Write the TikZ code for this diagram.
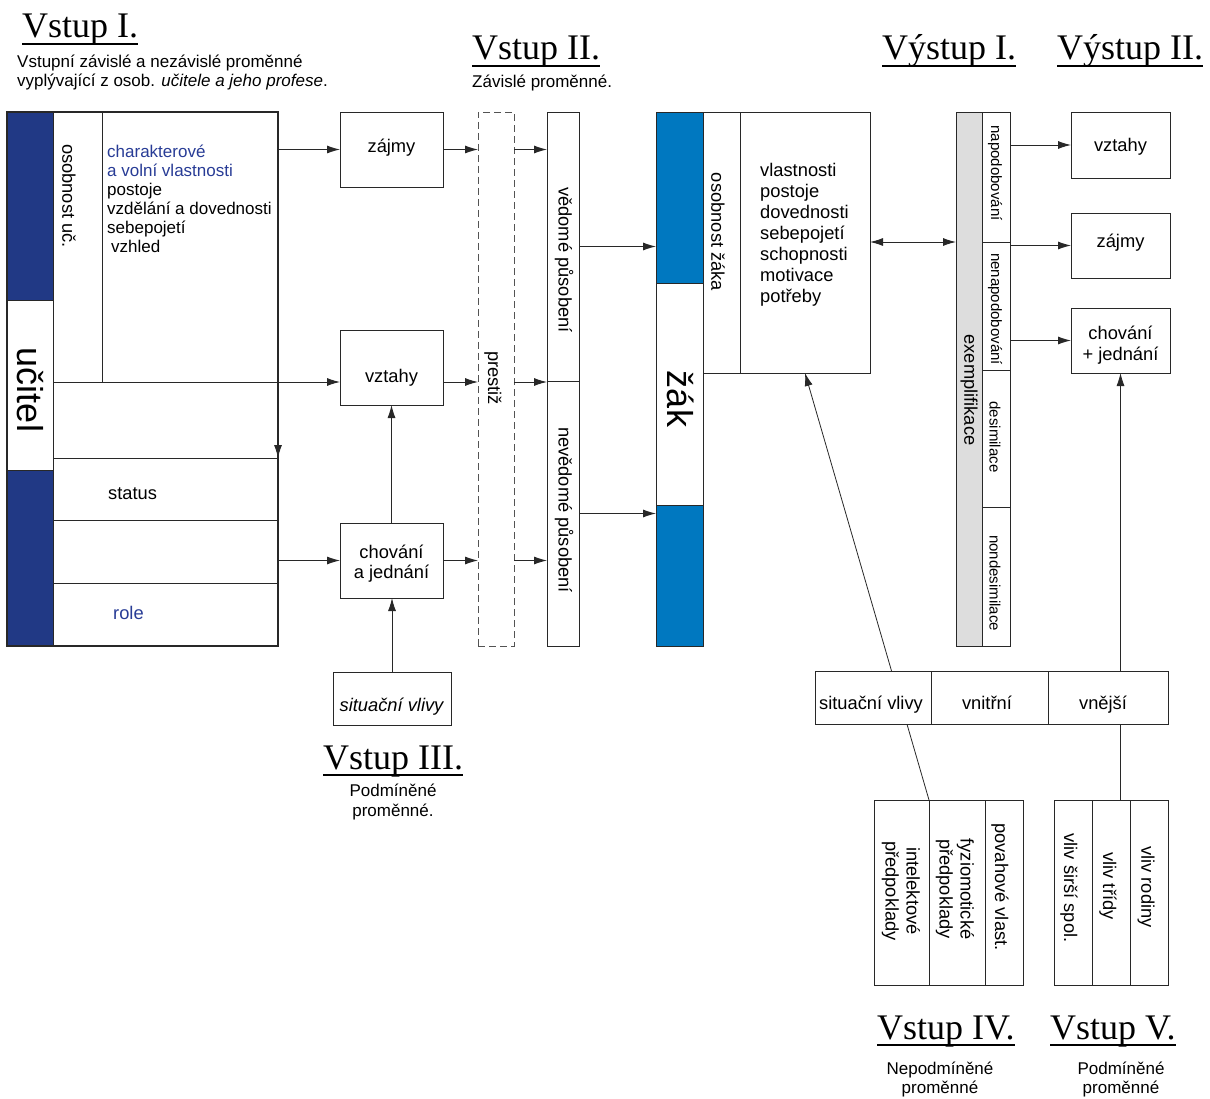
\documentclass[tikz,border=0pt]{standalone}
\usepackage{fontspec}
\setmainfont{Liberation Sans}
\newfontfamily\headfont{Liberation Serif}
\usetikzlibrary{arrows.meta,backgrounds}
\definecolor{navy}{RGB}{33,57,133}
\definecolor{zblue}{RGB}{0,120,192}
\definecolor{tblue}{RGB}{40,60,150}
\definecolor{exgray}{RGB}{221,221,221}
\definecolor{ln}{RGB}{40,40,40}
\newcommand\fsA{\fontsize{18.3}{21}\selectfont}
\newcommand\fsB{\fontsize{17}{19}\selectfont}
\newcommand\fsC{\fontsize{15}{17}\selectfont}
\newcommand\fsBig{\fontsize{36}{40}\selectfont}
\tikzset{
  bx/.style={draw=ln, line width=0.9pt, inner sep=0pt, outer sep=0pt, anchor=north west, align=center, font=\fsA},
  arr/.style={-{Latex[length=13pt,width=8pt]}, line width=0.9pt, draw=ln},
  darr/.style={{Latex[length=13pt,width=8pt]}-{Latex[length=13pt,width=8pt]}, line width=0.9pt, draw=ln},
  head/.style={font=\headfont\fontsize{36}{40}\selectfont, inner sep=0pt, anchor=base west},
  ul/.style={line width=1.8pt},
  rot/.style={rotate=-90, inner sep=0pt, font=\fsA, align=center},
  txt/.style={inner sep=0pt, font=\fsA},
  ctx/.style={inner sep=0pt, font=\fsA, anchor=base},
  sub/.style={inner sep=0pt, font=\fsB},
}
\newcommand\RB[7][]{\node[bx,minimum width={(#4)-(#2)},minimum height={(#5)-(#3)},#1] (#6) at (#2,#3) {#7};}
\begin{document}
\begin{tikzpicture}[x=1pt,y=-1pt]
\useasboundingbox (0,0) rectangle (1210,1099);

% headings
\node[head] (h1) at (22,38) {Vstup I.};
\node[head] (h2) at (472,60) {Vstup II.};
\node[head] (h3) at (882,60) {Výstup I.};
\node[head] (h4) at (1057,60) {Výstup II.};
\node[head] (h5) at (323,769) {Vstup III.};
\node[head] (h6) at (877,1039) {Vstup IV.};
\node[head] (h7) at (1050,1039) {Vstup V.};
\foreach \h in {h1,h2,h3,h4,h5,h6,h7}
  \draw[ul] ([yshift=-6pt]\h.base west) -- ([yshift=-6pt]\h.base east);

\node[sub,anchor=base west] (s1a) at (17,68) {Vstupní závislé a nezávislé proměnné};
\node[sub,anchor=base west] (s1b) at (17,87) {vyplývající z osob. \textit{učitele a jeho profese}.};
\node[sub,anchor=base west] (s2) at (472,88) {Závislé proměnné.};
\node[sub,anchor=base] (s5a) at (393,796) {Podmíněné};
\node[sub,anchor=base] (s5b) at (393,816) {proměnné.};
\node[sub,anchor=base] (s6a) at (940,1074) {Nepodmíněné};
\node[sub,anchor=base] (s6b) at (940,1093) {proměnné};
\node[sub,anchor=base] (s7a) at (1121,1074) {Podmíněné};
\node[sub,anchor=base] (s7b) at (1121,1093) {proměnné};

% teacher block
\RB[fill=navy]{7}{112}{53}{300}{tnav1}{}
\RB[fill=white]{7}{300}{53}{470}{tuc}{}
\RB[fill=navy]{7}{470}{53}{646}{tnav2}{}
\node[rot,font=\fsBig] (tuctxt) at (30,390) {učitel};
\RB{53}{112}{102}{382}{tosob}{}
\node[rot] (tosobt) at (69,196) {osobnost uč.};
\RB{102}{112}{278}{382}{tprops}{}
\node[sub,anchor=base west,text=tblue] (tp1) at (107,158) {charakterové};
\node[sub,anchor=base west,text=tblue] (tp2) at (107,177) {a volní vlastnosti};
\node[sub,anchor=base west] (tp3) at (107,196) {postoje};
\node[sub,anchor=base west] (tp4) at (107,215) {vzdělání a dovednosti};
\node[sub,anchor=base west] (tp5) at (107,234) {sebepojetí};
\node[sub,anchor=base west] (tp6) at (111,253) {vzhled};
\RB{53}{382}{278}{458}{tmid}{}
\RB{53}{458}{278}{520}{tstat}{}
\node[txt,anchor=base west] (tstatt) at (108,499) {status};
\RB{53}{520}{278}{583}{temp}{}
\RB{53}{583}{278}{646}{trole}{}
\node[txt,anchor=base west,text=tblue] (trolet) at (113,619) {role};
\node[bx,line width=1.4pt,minimum width=271,minimum height=534] (teacher) at (7,112) {};

% middle column
\RB{340}{112}{443}{187}{zajmy}{}
\node[ctx] (zajmyt) at (391.5,153) {zájmy};
\RB{340}{330}{443}{405}{vztahy}{}
\node[ctx] (vztahyt) at (391.5,382) {vztahy};
\RB{340}{523}{443}{598}{chov}{}
\node[ctx] (chovt1) at (391.5,558) {chování};
\node[ctx] (chovt2) at (391.5,578) {a jednání};
\RB{333}{672}{451}{725}{sitv}{}
\node[ctx] (sitvt) at (392,711) {\textit{situační vlivy}};

\RB[dash pattern=on 7pt off 4pt,draw=ln!80]{478}{112}{514}{646}{prest}{}
\node[rot] (prestt) at (493,378) {prestiž};

\RB{547}{112}{579}{381}{ved}{}
\RB{547}{381}{579}{646}{neved}{}
\node[rot] (vedt) at (564,260) {vědomé působení};
\node[rot] (nevedt) at (564,510) {nevědomé působení};

% arrows left part
\draw[arr] (tprops.east |- zajmy.west) -- (zajmy.west);
\draw[arr] (tmid.north west) -- (tmid.north west -| vztahy.west);
\draw[arr] (temp.east |- chov.west) -- (chov.west);
\draw[arr] (tprops.south east) -- (tmid.south east);
\draw[arr] (sitv.north) -- (sitv.north |- chov.south);
\draw[arr] (chov.north) -- (chov.north |- vztahy.south);
\draw[arr] (zajmy.east) -- (zajmy.east -| prest.west);
\draw[arr] (vztahy.east |- tmid.north) -- (prest.west |- tmid.north);
\draw[arr] (chov.east) -- (chov.east -| prest.west);
\draw[arr] (prest.east |- zajmy.east) -- (ved.west |- zajmy.east);
\draw[arr] (prest.east |- tmid.north) -- (ved.west |- tmid.north);
\draw[arr] (prest.east |- chov.east) -- (ved.west |- chov.east);

% zak block
\RB[fill=zblue]{656}{112}{703}{283}{zb1}{}
\RB[fill=white]{656}{283}{703}{505}{zw}{}
\RB[fill=zblue]{656}{505}{703}{646}{zb2}{}
\node[rot,font=\fsBig] (zakt) at (681,399) {žák};
\RB{703}{112}{740}{373}{zos}{}
\node[rot] (zost) at (718,232) {osobnost žáka};
\RB{740}{112}{870}{373}{zprops}{}
\node[txt,anchor=base west] (zp1) at (760,177) {vlastnosti};
\node[txt,anchor=base west] (zp2) at (760,198) {postoje};
\node[txt,anchor=base west] (zp3) at (760,219) {dovednosti};
\node[txt,anchor=base west] (zp4) at (760,240) {sebepojetí};
\node[txt,anchor=base west] (zp5) at (760,261) {schopnosti};
\node[txt,anchor=base west] (zp6) at (760,282) {motivace};
\node[txt,anchor=base west] (zp7) at (760,303) {potřeby};

\draw[arr] (ved.east) -- (ved.east -| zb1.west);
\draw[arr] (neved.east) -- (neved.east -| zb2.west);

% exemplifikace
\RB[fill=exgray]{956}{112}{982}{646}{exg}{}
\node[rot] (exgt) at (969,390) {exemplifikace};
\RB{982}{112}{1010}{242}{nap}{}
\RB{982}{242}{1010}{370}{nenap}{}
\RB{982}{370}{1010}{507}{desim}{}
\RB{982}{507}{1010}{646}{nondes}{}
\node[rot,font=\fsC] (napt) at (995,173) {napodobování};
\node[rot,font=\fsC] (nenapt) at (995,309) {nenapodobování};
\node[rot,font=\fsC] (desimt) at (995,437) {desimilace};
\node[rot,font=\fsC] (nondest) at (995,583) {nondesimilace};

\draw[darr] (zprops.east |- nap.south) -- (exg.west |- nap.south);

% vystup II boxes
\RB{1071}{112}{1170}{178}{ovz}{}
\node[ctx] (ovzt) at (1120.5,152) {vztahy};
\RB{1071}{213}{1170}{278}{ozaj}{}
\node[ctx] (ozajt) at (1120.5,248) {zájmy};
\RB{1071}{308}{1170}{373}{och}{}
\node[ctx] (ocht1) at (1120.5,339) {chování};
\node[ctx] (ocht2) at (1120.5,360) {+ jednání};
\draw[arr] (nap.east |- ovz.west) -- (ovz.west);
\draw[arr] (nenap.east |- ozaj.west) -- (ozaj.west);
\draw[arr] (nenap.east |- och.west) -- (och.west);

% bottom right
\RB[fill=white]{815}{671}{931}{724}{bsit}{}
\RB[fill=white]{931}{671}{1048}{724}{bvni}{}
\RB[fill=white]{1048}{671}{1168}{724}{bvne}{}
\node[ctx] (bsitt) at (871,709) {situační vlivy};
\node[ctx] (bvnit) at (987,709) {vnitřní};
\node[ctx] (bvnet) at (1103,709) {vnější};

\RB{874}{800}{929}{985}{iv1}{}
\RB{929}{800}{985}{985}{iv2}{}
\RB{985}{800}{1023}{985}{iv3}{}
\node[rot] (iv1t) at (901,891) {intelektové\\předpoklady};
\node[rot] (iv2t) at (955,889) {fyziomotické\\předpoklady};
\node[rot] (iv3t) at (1000,887) {povahové vlast.};

\RB{1054}{800}{1092}{985}{v1}{}
\RB{1092}{800}{1130}{985}{v2}{}
\RB{1130}{800}{1168}{985}{v3}{}
\node[rot] (v1t) at (1069,888) {vliv širší spol.};
\node[rot] (v2t) at (1108,886) {vliv třídy};
\node[rot] (v3t) at (1146,887) {vliv rodiny};

\begin{pgfonlayer}{background}
\fill[white] (0,0) rectangle (1210,1099);
\draw[arr,line width=0.8pt] (iv1.north east) -- (zprops.south);
\draw[arr,line width=0.8pt] (v2.north -| och.south) -- (och.south);
\end{pgfonlayer}
\end{tikzpicture}
\end{document}
